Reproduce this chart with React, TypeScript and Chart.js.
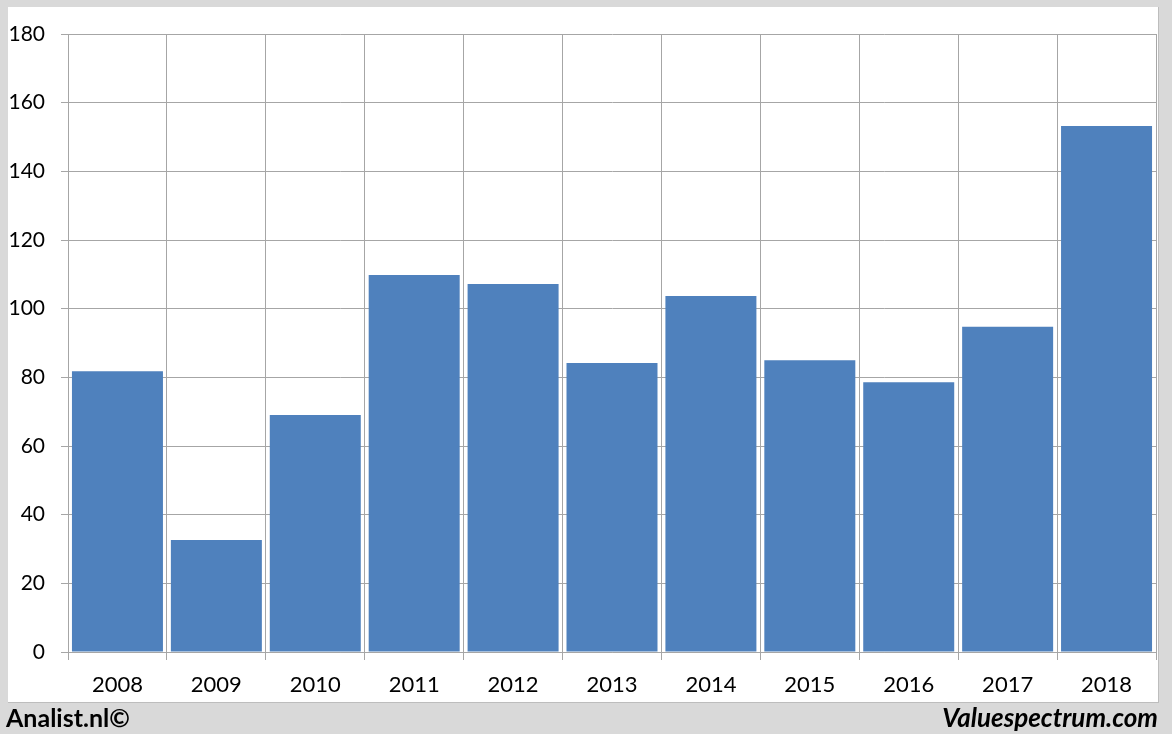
import React, { useEffect, useRef } from "react";
import { Chart, registerables } from "chart.js";

Chart.register(...registerables);

const categories = ["2008", "2009", "2010", "2011", "2012", "2013", "2014", "2015", "2016", "2017", "2018"];
const values = [81.8, 32.6, 69.0, 109.8, 107.2, 84.2, 103.7, 85.0, 78.6, 94.7, 153.2];
const yMin = 0;
const yMax = 180;
const yStep = 20;

const FONT = "Lato, 'Open Sans', 'Liberation Sans', sans-serif";
const GRID = "#a6a6a6";

export default function App() {
  const ref = useRef<HTMLCanvasElement | null>(null);

  useEffect(() => {
    document.body.style.margin = "0";
    const canvas = ref.current;
    if (!canvas) return;
    const chart = new Chart(canvas, {
      type: "bar",
      data: {
        labels: categories,
        datasets: [
          {
            data: values,
            backgroundColor: "#4f81bd",
            borderWidth: 0,
            barPercentage: 0.92,
            categoryPercentage: 1,
          },
        ],
      },
      options: {
        responsive: false,
        animation: false,
        devicePixelRatio: 1,
        layout: { padding: { left: 0, top: 34, right: 16, bottom: 0 } },
        plugins: { legend: { display: false }, tooltip: { enabled: false } },
        scales: {
          x: {
            offset: true,
            grid: {
              offset: true,
              color: GRID,
              lineWidth: 1,
              drawTicks: true,
              tickLength: 8,
            },
            border: { color: GRID, width: 1 },
            ticks: {
              color: "#000",
              font: { family: FONT, size: 22 },
              padding: 12,
              maxRotation: 0,
            },
            afterFit: (scale: any) => {
              scale.height = 734 - 652;
            },
          },
          y: {
            min: yMin,
            max: yMax,
            grid: { color: GRID, lineWidth: 1, drawTicks: true, tickLength: 7 },
            border: { color: GRID, width: 1 },
            ticks: {
              stepSize: yStep,
              color: "#000",
              font: { family: FONT, size: 21 },
              padding: 16,
            },
            afterFit: (scale: any) => {
              scale.width = 68;
            },
          },
        },
      },
    });
    return () => chart.destroy();
  }, []);

  return (
    <div style={{ position: "relative", width: 1172, height: 734, background: "#d9d9d9", overflow: "hidden" }}>
      <div
        style={{
          position: "absolute",
          left: 8,
          top: 7,
          width: 1151,
          height: 696,
          background: "#ffffff",
          borderRight: "1px solid #bdbdbd",
          borderBottom: "1px solid #bdbdbd",
          boxSizing: "border-box",
        }}
      />
      <canvas ref={ref} width={1172} height={734} style={{ position: "absolute", left: 0, top: 0, width: 1172, height: 734 }} />
      <div
        style={{
          position: "absolute",
          left: 6,
          top: 702,
          fontFamily: FONT,
          fontWeight: "bold",
          fontSize: 25,
          lineHeight: "30px",
          color: "#000",
        }}
      >
        Analist.nl©
      </div>
      <div
        style={{
          position: "absolute",
          right: 14,
          top: 702,
          fontFamily: FONT,
          fontWeight: "bold",
          fontStyle: "italic",
          fontSize: 26,
          lineHeight: "30px",
          color: "#000",
        }}
      >
        Valuespectrum.com
      </div>
    </div>
  );
}
